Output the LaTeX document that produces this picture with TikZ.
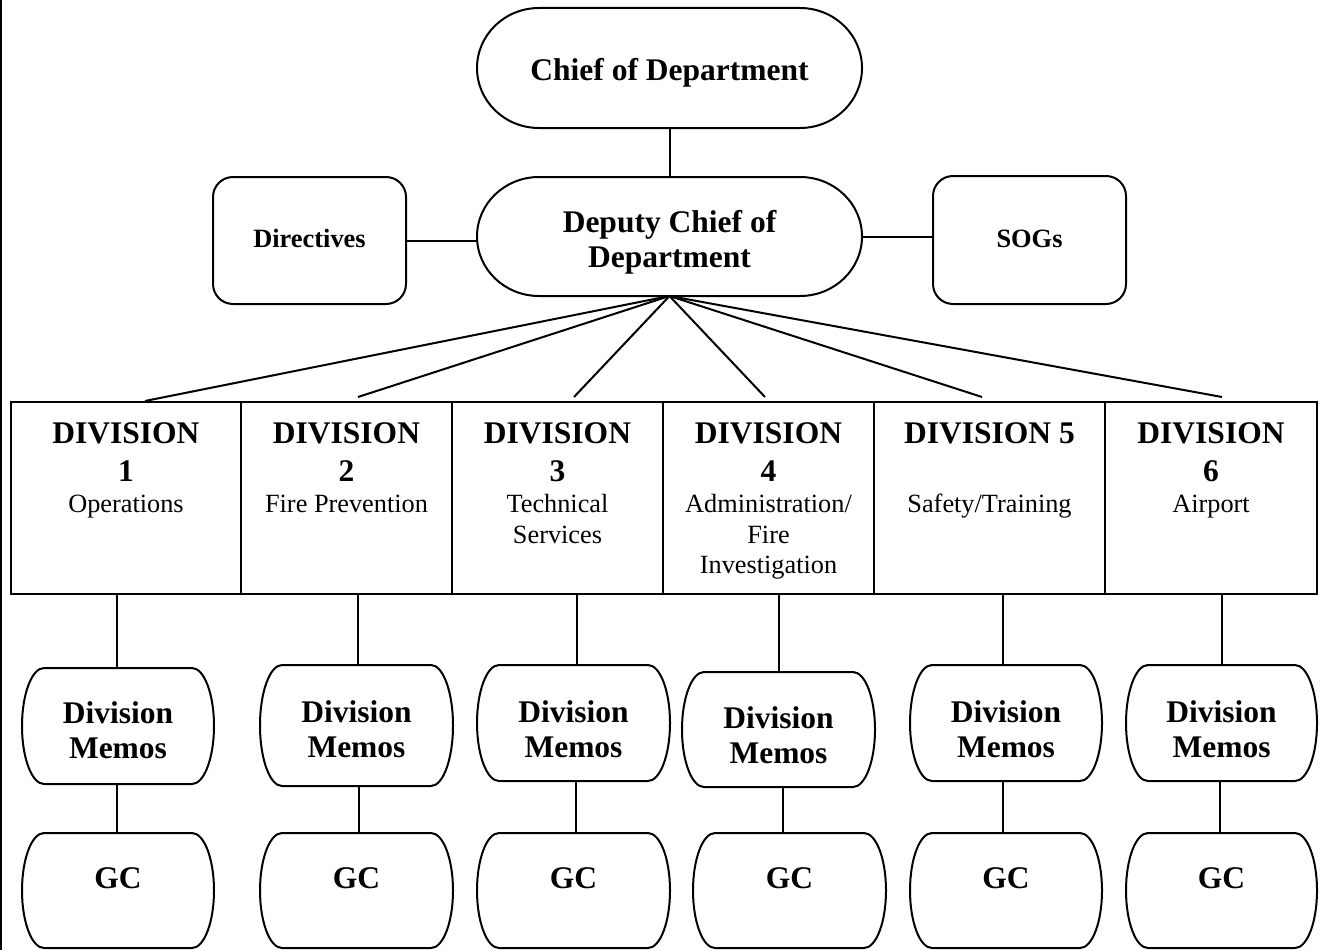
\documentclass[tikz,border=0pt]{standalone}
\usepackage{fontspec}
\setmainfont{Liberation Serif}
\usetikzlibrary{calc}
\newcommand\bigbold{\fontsize{31.5}{35}\selectfont\bfseries}
\newcommand\smallbold{\fontsize{26.4}{30}\selectfont\bfseries}
\newcommand\regtext{\fontsize{26.3}{31}\selectfont}
% text whose last baseline lies #1 above the node centre
\newcommand\txt[2]{\raisebox{#1}[0pt][0pt]{\begin{tabular}[b]{@{}c@{}}#2\end{tabular}}}
\tikzset{
  ln/.style={line width=2pt, black},
  oval/.style={rectangle, draw=none, inner sep=0pt, outer sep=0pt, align=center, font=\bigbold},
  rbox/.style={rectangle, draw, ln, rounded corners=20pt, inner sep=0pt, outer sep=0pt, font=\smallbold},
  divcell/.style={rectangle, draw, ln, minimum height=192pt, inner sep=0pt, outer sep=0pt},
  divhead/.style={anchor=base, inner sep=0pt, font=\bigbold},
  divsub/.style={anchor=base, inner sep=0pt, font=\regtext},
}
% outline of an oval node with elliptic ends of horizontal radius #2
\newcommand\mkoval[2]{%
  \draw[ln] let \p1=(#1.north west), \p2=(#1.south east), \n1={0.5*(\y1-\y2)} in
    (\x1+#2,\y1) -- (\x2-#2,\y1)
    arc[start angle=90, end angle=-90, x radius=#2, y radius=\n1]
    -- (\x1+#2,\y2)
    arc[start angle=270, end angle=90, x radius=#2, y radius=\n1] -- cycle;}
\begin{document}
\begin{tikzpicture}[x=1pt,y=-1pt]
\useasboundingbox (0,0) rectangle (1321,950);
\draw[line width=2pt] (1,0) -- (1,950);

% top
\node[oval, minimum width=385pt, minimum height=120pt] (chief) at (669.5,68) {\txt{-12pt}{Chief of Department}};
\node[oval, minimum width=385pt, minimum height=119pt] (deputy) at (669.5,236.5) {\txt{-30.5pt}{Deputy Chief of\\Department}};
\node[rbox, minimum width=193pt, minimum height=127pt] (dir) at (309.5,240.5) {\txt{-6.5pt}{Directives}};
\node[rbox, minimum width=193pt, minimum height=128pt] (sog) at (1029.5,240) {\txt{-7pt}{SOGs}};
\mkoval{chief}{62pt}
\mkoval{deputy}{62pt}

% division cells
\node[divcell, minimum width=230pt] (d1) at (126,498) {};
\node[divcell, minimum width=211pt] (d2) at (346.5,498) {};
\node[divcell, minimum width=211pt] (d3) at (557.5,498) {};
\node[divcell, minimum width=211pt] (d4) at (768.5,498) {};
\node[divcell, minimum width=231pt] (d5) at (989.5,498) {};
\node[divcell, minimum width=212pt] (d6) at (1211,498) {};

\node[divhead] (d1a) at (126,443) {DIVISION};
\node[divhead] (d1b) at (126,481) {1};
\node[divsub]  (d1c) at (126,512) {Operations};

\node[divhead] (d2a) at (346.5,443) {DIVISION};
\node[divhead] (d2b) at (346.5,481) {2};
\node[divsub]  (d2c) at (346.5,512) {Fire Prevention};

\node[divhead] (d3a) at (557.5,443) {DIVISION};
\node[divhead] (d3b) at (557.5,481) {3};
\node[divsub]  (d3c) at (557.5,512) {Technical};
\node[divsub]  (d3d) at (557.5,543) {Services};

\node[divhead] (d4a) at (768.5,443) {DIVISION};
\node[divhead] (d4b) at (768.5,481) {4};
\node[divsub]  (d4c) at (768.5,512) {Administration/};
\node[divsub]  (d4d) at (768.5,543) {Fire};
\node[divsub]  (d4e) at (768.5,573) {Investigation};

\node[divhead] (d5a) at (989.5,443) {DIVISION 5};
\node[divsub]  (d5c) at (989.5,512) {Safety/Training};

\node[divhead] (d6a) at (1211,443) {DIVISION};
\node[divhead] (d6b) at (1211,481) {6};
\node[divsub]  (d6c) at (1211,512) {Airport};

% memos
\node[oval, minimum width=192pt, minimum height=116pt] (m1) at (118,726) {\txt{-32pt}{Division\\Memos}};
\node[oval, minimum width=193pt, minimum height=121pt] (m2) at (356.5,725.5) {\txt{-31.5pt}{Division\\Memos}};
\node[oval, minimum width=193pt, minimum height=116pt] (m3) at (573.5,723) {\txt{-34pt}{Division\\Memos}};
\node[oval, minimum width=193pt, minimum height=115pt] (m4) at (778.5,729.5) {\txt{-33.5pt}{Division\\Memos}};
\node[oval, minimum width=192pt, minimum height=116pt] (m5) at (1006,723) {\txt{-34pt}{Division\\Memos}};
\node[oval, minimum width=191pt, minimum height=116pt] (m6) at (1221.5,723) {\txt{-34pt}{Division\\Memos}};
\foreach \m in {m1,m2,m3,m4,m5,m6} {\mkoval{\m}{22pt}}

% GC
\node[oval, minimum width=192pt, minimum height=115pt] (g1) at (118,890.5) {\txt{2.5pt}{GC}};
\node[oval, minimum width=193pt, minimum height=115pt] (g2) at (356.5,890.5) {\txt{2.5pt}{GC}};
\node[oval, minimum width=193pt, minimum height=115pt] (g3) at (573.5,890.5) {\txt{2.5pt}{GC}};
\node[oval, minimum width=193pt, minimum height=115pt] (g4) at (789.5,890.5) {\txt{2.5pt}{GC}};
\node[oval, minimum width=192pt, minimum height=115pt] (g5) at (1006,890.5) {\txt{2.5pt}{GC}};
\node[oval, minimum width=191pt, minimum height=115pt] (g6) at (1221.5,890.5) {\txt{2.5pt}{GC}};
\foreach \g in {g1,g2,g3,g4,g5,g6} {\mkoval{\g}{22pt}}

% connectors top
\draw[ln] (chief.south) -- (deputy.north);
\draw[ln] (dir.east) -- (dir.east -| deputy.west);
\draw[ln] (deputy.east) -- (deputy.east -| sog.west);

\coordinate (t1) at (145,401);
\coordinate (t2) at (358,397);
\coordinate (t3) at (574,397);
\coordinate (t4) at (765,397);
\coordinate (t5) at (982,397);
\coordinate (t6) at (1222,397);
\foreach \t in {t1,t2,t3,t4,t5,t6} {\draw[ln] (deputy.south) -- (\t);}

% connectors division -> memo -> GC
\draw[ln] ([xshift=-1pt]m1.north) -- ([xshift=-1pt]m1.north |- d1.south);
\draw[ln] ([xshift=1.5pt]m2.north) -- ([xshift=1.5pt]m2.north |- d2.south);
\draw[ln] ([xshift=3pt]m3.north) -- ([xshift=3pt]m3.north |- d3.south);
\draw[ln] (m4.north) -- (m4.north |- d4.south);
\draw[ln] ([xshift=-3pt]m5.north) -- ([xshift=-3pt]m5.north |- d5.south);
\draw[ln] (m6.north) -- (m6.north |- d6.south);

\draw[ln] ([xshift=-1pt]m1.south) -- ([xshift=-1pt]m1.south |- g1.north);
\draw[ln] ([xshift=2.5pt]m2.south) -- ([xshift=2.5pt]m2.south |- g2.north);
\draw[ln] ([xshift=2.5pt]m3.south) -- ([xshift=2.5pt]m3.south |- g3.north);
\draw[ln] ([xshift=4.5pt]m4.south) -- ([xshift=4.5pt]m4.south |- g4.north);
\draw[ln] ([xshift=-3pt]m5.south) -- ([xshift=-3pt]m5.south |- g5.north);
\draw[ln] ([xshift=-1.5pt]m6.south) -- ([xshift=-1.5pt]m6.south |- g6.north);
\end{tikzpicture}
\end{document}
